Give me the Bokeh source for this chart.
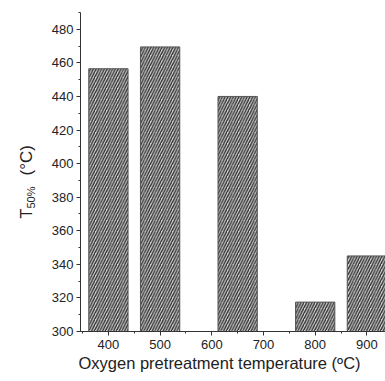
import math
from bokeh.plotting import figure
from bokeh.models import Range1d, FixedTicker, Label, ColumnDataSource, Title
from bokeh.layouts import row
from bokeh.embed import file_html
from bokeh.resources import INLINE

# data
temps = [400, 500, 650, 800, 900]
t50 = [456.5, 469.5, 440.0, 317.5, 345.0]
x_ticks = [400, 500, 600, 700, 800, 900]
y_ticks = [300, 320, 340, 360, 380, 400, 420, 440, 460, 480]
bar_width = 76

FONT = "Liberation Sans"
LW = 40  # width of the y-label strip

p = figure(width=385 - LW, height=381, output_backend="svg", toolbar_location=None,
           x_range=Range1d(346, 936), y_range=Range1d(300, 490),
           min_border_left=80 - LW, min_border_right=0, min_border_top=12, min_border_bottom=50)
p.outline_line_color = None
p.xgrid.visible = False
p.ygrid.visible = False
p.background_fill_color = "white"
p.border_fill_color = "white"

src = ColumnDataSource(dict(x=temps, top=t50))
p.vbar(x="x", top="top", bottom=300, width=bar_width, source=src,
       fill_color="#d8d8d8", line_color="#555555", line_width=1,
       hatch_pattern="/", hatch_color="#303030", hatch_scale=5.5, hatch_weight=1.4)

for ax in (p.xaxis[0], p.yaxis[0]):
    ax.axis_line_color = "#333333"
    ax.major_tick_line_color = "#333333"
    ax.minor_tick_line_color = "#333333"
    ax.major_tick_out = 4
    ax.major_tick_in = 0
    ax.minor_tick_out = 2
    ax.minor_tick_in = 0
    ax.major_label_text_font = FONT
    ax.major_label_text_font_size = "13px"
    ax.major_label_text_color = "#222222"

p.xaxis.ticker = FixedTicker(ticks=x_ticks, minor_ticks=[350, 450, 550, 650, 750, 850, 950])
p.yaxis.ticker = FixedTicker(ticks=y_ticks, minor_ticks=list(range(300, 491, 10)))
p.xaxis.major_label_standoff = 4
p.yaxis.major_label_standoff = 3

p.add_layout(Title(text="Oxygen pretreatment temperature (\u00baC)", align="left", offset=-2,
                   text_font=FONT, text_font_size="16.5px", text_font_style="normal",
                   text_color="#222222", standoff=0), "below")

# y-axis label strip with subscript (its frame is aligned with the main frame: 12..331)
q = figure(width=LW, height=381, output_backend="svg", toolbar_location=None,
           x_range=Range1d(0, 1), y_range=Range1d(0, 1),
           min_border_left=0, min_border_right=0, min_border_top=12, min_border_bottom=50)
q.axis.visible = False
q.grid.visible = False
q.outline_line_color = None
q.border_fill_color = "white"
q.background_fill_color = "white"
lbl = dict(x_units="screen", y_units="screen", angle=math.pi / 2, text_font=FONT,
           text_color="#222222", text_baseline="alphabetic", text_align="left")
q.add_layout(Label(x=26, y=113, text="T", text_font_size="16px", **lbl))
q.add_layout(Label(x=30, y=123, text="50%", text_font_size="11px", **lbl))
q.add_layout(Label(x=26, y=156, text="(\u00b0C)", text_font_size="17px", **lbl))

layout = row(q, p)
open("out.html", "w").write(file_html(layout, INLINE))
